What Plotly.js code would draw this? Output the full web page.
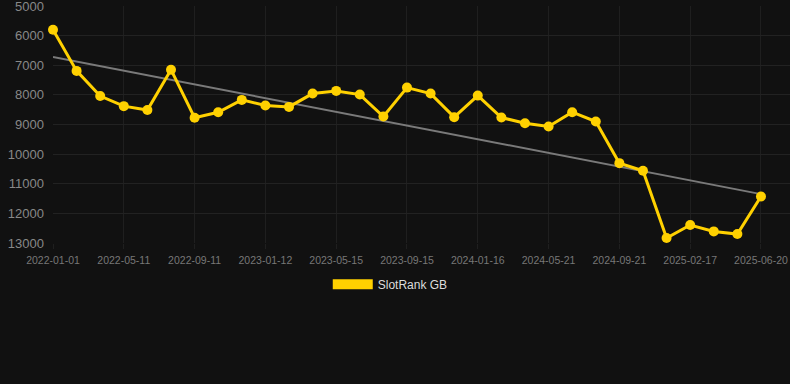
<!DOCTYPE html>
<html><head><meta charset="utf-8">
<script src="https://cdn.plot.ly/plotly-3.0.1.min.js"></script>
<style>html,body{margin:0;padding:0;background:#111111;}#chart{width:790px;height:384px;}</style>
</head><body><div id="chart"></div>
<script>
const dates = ["2022-01-01","2022-02-13","2022-03-28","2022-05-11","2022-06-21","2022-08-01","2022-09-11","2022-10-24","2022-12-03","2023-01-12","2023-02-22","2023-04-04","2023-05-15","2023-06-25","2023-08-05","2023-09-15","2023-10-27","2023-12-06","2024-01-16","2024-02-28","2024-04-09","2024-05-21","2024-07-02","2024-08-11","2024-09-21","2024-11-10","2024-12-30","2025-02-17","2025-03-30","2025-05-10","2025-06-20"];
const ranks = [5800,7190,8040,8380,8510,7150,8770,8585,8170,8360,8405,7956,7866,7990,8732,7754,7956,8753,8024,8766,8955,9069,8585,8900,10304,10563,12833,12395,12609,12698,11430];
const tickLabels = ["2022-01-01","2022-05-11","2022-09-11","2023-01-12","2023-05-15","2023-09-15","2024-01-16","2024-05-21","2024-09-21","2025-02-17","2025-06-20"];
const yTicks = [5000,6000,7000,8000,9000,10000,11000,12000,13000];
const trendX = ["2022-01-01","2025-06-20"];
const trendY = [6720, 11350];
const seriesName = "SlotRank GB";

const traces = [
  {x: trendX, y: trendY, type:'scatter', mode:'lines', line:{color:'#7a7a7a', width:2}, showlegend:false, hoverinfo:'skip', cliponaxis:false},
  {x: dates, y: ranks, type:'scatter', mode:'lines+markers', line:{color:'#FFD100', width:3}, marker:{color:'#FFD100', size:10}, showlegend:false, cliponaxis:false},
  {x:[null], y:[null], type:'scatter', mode:'lines', name: seriesName, line:{color:'#FFD100', width:12}, showlegend:true}
];
const layout = {
  width:790, height:384,
  paper_bgcolor:'#111111', plot_bgcolor:'#111111',
  margin:{l:53, r:0, t:6, b:141},
  font:{family:'"Liberation Sans", Arial, sans-serif', color:'#888'},
  xaxis:{type:'category', categoryorder:'array', categoryarray:dates, range:[0,31.23],
    tickmode:'array', tickvals:tickLabels, ticktext:tickLabels,
    showgrid:true, gridcolor:'#1f1f1f', gridwidth:1, zeroline:false, showline:false,
    ticks:'outside', ticklen:5, tickcolor:'#1f1f1f',
    tickfont:{size:10.5, color:'#777'}, ticklabelstandoff:2},
  yaxis:{range:[13000.5,4999.5], tickmode:'array', tickvals:yTicks,
    ticktext:yTicks.map(String), ticklabeloverflow:'allow',
    showgrid:true, gridcolor:'#222222', gridwidth:1, zeroline:false, showline:false,
    ticks:'', tickfont:{size:13, color:'#888'}, ticklabelstandoff:8},
  showlegend:true,
  legend:{orientation:'h', xref:'container', yref:'container', x:0.494, xanchor:'center', y:0.26, yanchor:'middle',
    font:{size:12, color:'#dddddd'}, itemwidth:40, bgcolor:'rgba(0,0,0,0)'}
};
Plotly.newPlot('chart', traces, layout, {displayModeBar:false, staticPlot:true});
</script></body></html>
